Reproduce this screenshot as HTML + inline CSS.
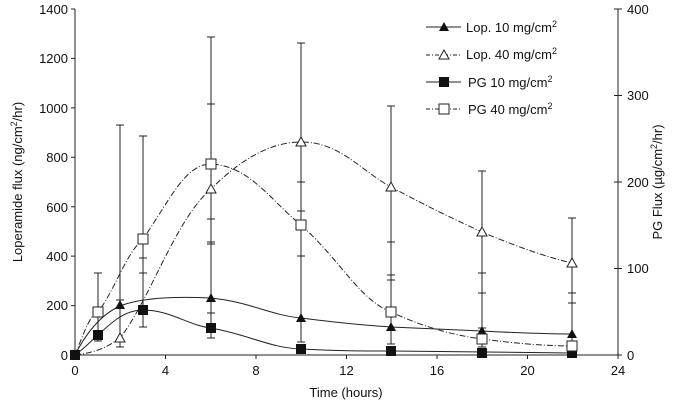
<!DOCTYPE html><html><head><style>body{margin:0;background:#fff}svg text{font-family:"Liberation Sans",Arial,sans-serif;fill:#111}</style></head><body>
<svg width="678" height="403" viewBox="0 0 678 403">
<g stroke="#222" stroke-width="1" fill="none">
<line x1="75" y1="9" x2="75" y2="355"/><line x1="75" y1="355" x2="618" y2="355"/><line x1="618" y1="9" x2="618" y2="355"/>
<path d="M71 9h4M71 58.4h4M71 107.9h4M71 157.3h4M71 206.7h4M71 256.1h4M71 305.6h4M71 355h4"/>
<path d="M614 9h8M614 95.5h8M614 182h8M614 268.5h8M614 355h8"/>
<path d="M75 355v4M165.5 355v4M256 355v4M346.5 355v4M437 355v4M527.5 355v4M618 355v4"/>
</g>
<g font-size="13" text-anchor="end">
<text x="68" y="14">1400</text><text x="68" y="63">1200</text><text x="68" y="113">1000</text><text x="68" y="162">800</text><text x="68" y="212">600</text><text x="68" y="261">400</text><text x="68" y="310">200</text><text x="68" y="360">0</text></g>
<g font-size="13"><text x="627" y="14">400</text><text x="627" y="100">300</text><text x="627" y="187">200</text><text x="627" y="273">100</text><text x="627" y="360">0</text></g>
<g font-size="13" text-anchor="middle"><text x="75" y="375">0</text><text x="165.5" y="375">4</text><text x="256" y="375">8</text><text x="346.5" y="375">12</text><text x="437" y="375">16</text><text x="527.5" y="375">20</text><text x="618" y="375">24</text>
<text x="346" y="397" font-size="13">Time (hours)</text></g>
<text transform="translate(22,182) rotate(-90)" font-size="13" text-anchor="middle">Loperamide flux (ng/cm<tspan font-size="9" dy="-5">2</tspan><tspan dy="5">/hr)</tspan></text>
<text transform="translate(662,182) rotate(-90)" font-size="13" text-anchor="middle">PG Flux (µg/cm<tspan font-size="9" dy="-5">2</tspan><tspan dy="5">/hr)</tspan></text>
<g stroke="#222" stroke-width="1" fill="none">
<path d="M98 273V341M94 273h8M94 341h8M120 125V347M116 125h8M116 347h8M116 300h8M143 136V327M139 136h8M139 327h8M139 258h8M139 273h8M211 37V338M207 37h8M207 104h8M207 219h8M207 242h8M207 244h8M207 313h8M207 338h8M301 43V342M297 43h8M297 182h8M297 211h8M297 256h8M297 342h8M391 106V344M387 106h8M387 242h8M387 275h8M387 280h8M387 344h8M482 171V347M478 171h8M478 273h8M478 293h8M478 328h8M478 347h8M572 218V350M568 218h8M568 293h8M568 303h8M568 350h8"/>
<path d="M75 355 C85 335 100 315 120 306 C140 298 170 296 211 298 C250 302 270 315 301 318 C340 323 360 325 391 327 C430 329 460 330 482 331 C520 333 550 334 572 334"/>
<path d="M75 355 C85 348 92 340 98 335 C112 322 125 310 143 310 C170 310 190 326 211 328 C250 335 270 348 301 349 C340 351 360 351 391 351 L572 353"/>
<path stroke-dasharray="6,2,1,2" d="M75 355 C100 352 110 345 120 338 C150 300 175 220 211 189 C240 160 270 142 301 142 C340 142 360 170 391 187 C430 208 460 222 482 232 C520 248 550 258 572 263"/>
<path stroke-dasharray="6,2,1,2" d="M75 355 C85 330 90 315 98 312 C115 290 125 255 143 239 C170 200 185 164 211 164 C250 166 270 200 301 225 C340 260 360 300 391 312 C430 330 460 336 482 339 C520 344 550 346 572 346"/>
</g>
<g fill="#111"><path d="M75 350l-5 9h10zM120 300l-5 9h10zM211 293l-5 9h10zM301 313l-5 9h10zM391 322l-5 9h10zM482 326l-5 9h10zM572 329l-5 9h10z"/>
<path d="M70 350h10v10h-10zM93 330h10v10h-10zM138 305h10v10h-10zM206 323h10v10h-10zM296 344h10v10h-10zM386 346h10v10h-10zM477 348h10v10h-10zM567 348h10v10h-10z"/></g>
<g fill="#fff" stroke="#222"><path d="M120 333l-5 9h10zM211 184l-5 9h10zM301 137l-5 9h10zM391 182l-5 9h10zM482 227l-5 9h10zM572 258l-5 9h10z"/>
<path d="M93 307h10v10h-10zM138 234h10v10h-10zM206 159h10v10h-10zM296 220h10v10h-10zM386 307h10v10h-10zM477 334h10v10h-10zM567 341h10v10h-10z"/></g>
<g stroke="#222" fill="none"><path d="M426 27h35M426 82h35"/><path stroke-dasharray="4,2,1,2" d="M426 55h35M426 109h35"/></g>
<path d="M444 22l-5 9h10z" fill="#111"/><path d="M444 50l-5 9h10z" fill="#fff" stroke="#222"/>
<rect x="439" y="77" width="10" height="10" fill="#111"/><rect x="439" y="104" width="10" height="10" fill="#fff" stroke="#222"/>
<g font-size="13"><text x="466" y="32">Lop. 10 mg/cm<tspan font-size="9" dy="-5">2</tspan></text><text x="466" y="59">Lop. 40 mg/cm<tspan font-size="9" dy="-5">2</tspan></text><text x="468" y="87">PG 10 mg/cm<tspan font-size="9" dy="-5">2</tspan></text><text x="468" y="114">PG 40 mg/cm<tspan font-size="9" dy="-5">2</tspan></text></g>
</svg></body></html>
